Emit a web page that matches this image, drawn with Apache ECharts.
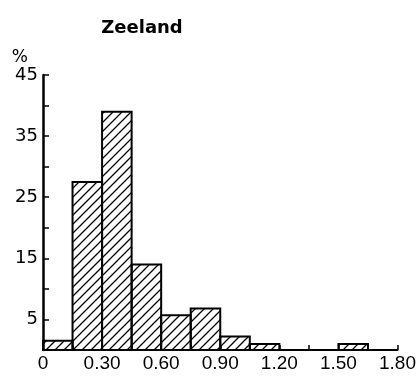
<!DOCTYPE html>
<html>
<head>
<meta charset="utf-8">
<script src="https://cdn.jsdelivr.net/npm/echarts@6/dist/echarts.min.js"></script>
<style>
  html, body { margin: 0; padding: 0; background: #fff; }
  #chart { width: 419px; height: 376px; }
</style>
</head>
<body>
<div id="chart"></div>
<script>
// bins of 0.15 (start of each bin), percent of cases
var binStarts = [0, 0.15, 0.30, 0.45, 0.60, 0.75, 0.90, 1.05, 1.20, 1.35, 1.50, 1.65];
var percents = [1.5, 27.5, 39, 14, 5.7, 6.8, 2.2, 1, 0, 0, 1, 0];
var binWidth = 0.15;
var yLabels = [5, 15, 25, 35, 45];

// diagonal hatch pattern
var hatch = document.createElement('canvas');
hatch.width = 9; hatch.height = 9;
var ctx = hatch.getContext('2d');
ctx.strokeStyle = '#000';
ctx.lineWidth = 1.3;
ctx.beginPath();
ctx.moveTo(-1, 10); ctx.lineTo(10, -1);
ctx.moveTo(-1, 1); ctx.lineTo(1, -1);
ctx.moveTo(8, 10); ctx.lineTo(10, 8);
ctx.stroke();

var data = binStarts.map(function (s, i) { return [s, percents[i]]; });

var chart = echarts.init(document.getElementById('chart'));
var option = {
  animation: false,
  title: {
    text: 'Zeeland',
    left: 137,
    top: 14,
    textAlign: 'center',
    textStyle: {fontFamily: 'DejaVu Sans', fontSize: 18, fontWeight: 'bold', color: '#000'}
  },
  grid: {left: 43, right: 18, top: 75, bottom: 26},
  xAxis: {
    type: 'value',
    min: 0,
    max: 1.8,
    interval: 0.15,
    splitLine: {show: false},
    axisLine: {lineStyle: {color: '#000', width: 2}},
    axisTick: {inside: true, length: 5, lineStyle: {color: '#000', width: 1.5}},
    axisLabel: {
      color: '#000',
      fontFamily: 'Liberation Sans',
      fontSize: 19,
      margin: 4,
      formatter: function (v) {
        var k = Math.round(v / binWidth);
        if (k % 2 !== 0) return '';
        return k === 0 ? '0' : (k * binWidth).toFixed(2);
      }
    }
  },
  yAxis: {
    type: 'value',
    min: 0,
    max: 45,
    interval: 5,
    name: '%',
    nameLocation: 'end',
    nameGap: 7,
    nameTextStyle: {color: '#000', fontFamily: 'DejaVu Sans', fontSize: 17, align: 'right', padding: [0, 15, 0, 0]},
    splitLine: {show: false},
    axisLine: {show: true, lineStyle: {color: '#000', width: 2.5}},
    axisTick: {inside: true, length: 6, lineStyle: {color: '#000', width: 1.5}},
    axisLabel: {
      color: '#000',
      fontFamily: 'DejaVu Sans',
      fontSize: 18,
      margin: 5,
      formatter: function (v) { return yLabels.indexOf(Math.round(v)) >= 0 ? String(Math.round(v)) : ''; }
    }
  },
  series: [{
    type: 'custom',
    data: data,
    encode: {x: 0, y: 1},
    renderItem: function (params, api) {
      var x0 = api.value(0), v = api.value(1);
      if (!v) return null;
      var p0 = api.coord([x0, v]);
      var p1 = api.coord([x0 + binWidth, 0]);
      return {
        type: 'rect',
        shape: {x: p0[0], y: p0[1], width: p1[0] - p0[0], height: p1[1] - p0[1]},
        style: {fill: {image: hatch, repeat: 'repeat'}, stroke: '#000', lineWidth: 2}
      };
    }
  }]
};
chart.setOption(option);
</script>
</body>
</html>
